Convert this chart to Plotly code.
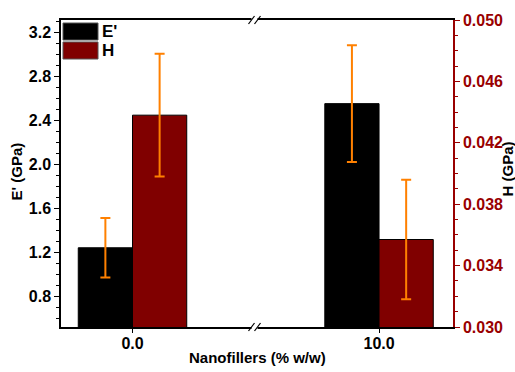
import plotly.graph_objects as go

# Filler loading (% w/w) shown on a broken category axis
categories = ["0.0", "10.0"]
x_pos = [0, 1]

# Storage modulus E' (GPa) and its standard deviation
e_prime = [1.24, 2.55]
e_prime_err = [0.27, 0.53]

# Hardness H (GPa) and its standard deviation
hardness = [0.0438, 0.0357]
hardness_err = [0.0040, 0.0039]

# Axis tick labels
left_ticks = [0.8, 1.2, 1.6, 2.0, 2.4, 2.8, 3.2]
right_ticks = [0.030, 0.034, 0.038, 0.042, 0.046, 0.050]

FONT = "Liberation Sans, Arial, sans-serif"
RED = "#990000"
BAR_RED = "#800000"
ORANGE = "#FF8000"

fig = go.Figure()

fig.add_trace(go.Bar(
    x=x_pos, y=e_prime, width=0.22, offset=-0.22, name="E'",
    marker=dict(color="black", line=dict(color="black", width=1)),
    error_y=dict(type="data", array=e_prime_err, color=ORANGE, thickness=2, width=5),
    yaxis="y", showlegend=False,
))
fig.add_trace(go.Bar(
    x=x_pos, y=hardness, width=0.22, offset=0, name="H",
    marker=dict(color=BAR_RED, line=dict(color="black", width=1)),
    error_y=dict(type="data", array=hardness_err, color=ORANGE, thickness=2, width=5),
    yaxis="y2", showlegend=False,
))

tick_font = dict(family=FONT, size=16, color="black", weight=700)

fig.update_layout(
    width=515, height=372,
    margin=dict(l=61, r=61, t=17, b=45),
    paper_bgcolor="white", plot_bgcolor="white",
    barmode="overlay",
    xaxis=dict(
        range=[-0.29, 1.30], tickvals=x_pos, ticktext=categories,
        showline=True, linecolor="black", linewidth=1.5, mirror=True,
        ticks="outside", ticklen=4, tickcolor="black", ticklabelstandoff=-3,
        showgrid=False, zeroline=False, tickfont=tick_font,
    ),
    yaxis=dict(
        range=[0.52, 3.31], tickvals=left_ticks, tickformat=".1f",
        showline=True, linecolor="black", linewidth=1.5,
        ticks="outside", ticklen=5, tickcolor="black",
        minor=dict(dtick=0.1, tick0=0, ticks="outside", ticklen=3, tickcolor="black"),
        showgrid=False, zeroline=False, tickfont=tick_font,
    ),
    yaxis2=dict(
        overlaying="y", side="right",
        range=[0.030, 0.050], tickvals=right_ticks, tickformat=".3f",
        showline=True, linecolor=RED, linewidth=1.5,
        ticks="outside", ticklen=5, tickcolor=RED,
        minor=dict(dtick=0.001, tick0=0, ticks="outside", ticklen=3, tickcolor=RED),
        showgrid=False, zeroline=False,
        tickfont=dict(family=FONT, size=16, color=RED, weight=700),
    ),
)

# Legend swatches drawn as boxes in the upper-left corner
shapes = []
for i, col in enumerate(["black", BAR_RED]):
    top = -3 - 19 * i
    shapes.append(dict(
        type="rect", xref="paper", yref="paper",
        xsizemode="pixel", xanchor=0, x0=2, x1=37,
        ysizemode="pixel", yanchor=1, y0=top, y1=top - 17,
        fillcolor=col, line=dict(color="#555555", width=1), layer="above",
    ))

# Axis break marks "//" on the top and bottom spines
brk = (255 - 61) / 393
for yy in (0, 1):
    shapes.append(dict(
        type="rect", xref="paper", yref="paper",
        xsizemode="pixel", xanchor=brk, x0=-3, x1=3,
        ysizemode="pixel", yanchor=yy, y0=-3, y1=3,
        fillcolor="white", line=dict(width=0), layer="above",
    ))
    for dx in (-3, 3):
        shapes.append(dict(
            type="line", xref="paper", yref="paper",
            xsizemode="pixel", xanchor=brk, x0=dx - 3, x1=dx + 3,
            ysizemode="pixel", yanchor=yy, y0=-4, y1=4,
            line=dict(color="black", width=1.2), layer="above",
        ))
fig.update_layout(shapes=shapes)

title_font = dict(family=FONT, size=15, color="black", weight=700)
legend_font = dict(family=FONT, size=17, color="black", weight=700)
annotations = [
    dict(text="E'", x=0, y=1, xref="paper", yref="paper", xanchor="left", yanchor="middle",
         xshift=39, yshift=-11.5, showarrow=False, font=legend_font),
    dict(text="H", x=0, y=1, xref="paper", yref="paper", xanchor="left", yanchor="middle",
         xshift=39, yshift=-30.5, showarrow=False, font=legend_font),
    dict(text="Nanofillers (% w/w)", x=0.5, y=0, xref="paper", yref="paper",
         xanchor="center", yanchor="middle", yshift=-30, showarrow=False, font=title_font),
    dict(text="E' (GPa)", x=0, y=0.5, xref="paper", yref="paper", textangle=-90,
         xanchor="center", yanchor="middle", xshift=-45, yshift=2, showarrow=False, font=title_font),
    dict(text="H (GPa)", x=1, y=0.5, xref="paper", yref="paper", textangle=-90,
         xanchor="center", yanchor="middle", xshift=54, yshift=4, showarrow=False, font=title_font),
]
fig.update_layout(annotations=annotations)

fig.write_html("out.html")
